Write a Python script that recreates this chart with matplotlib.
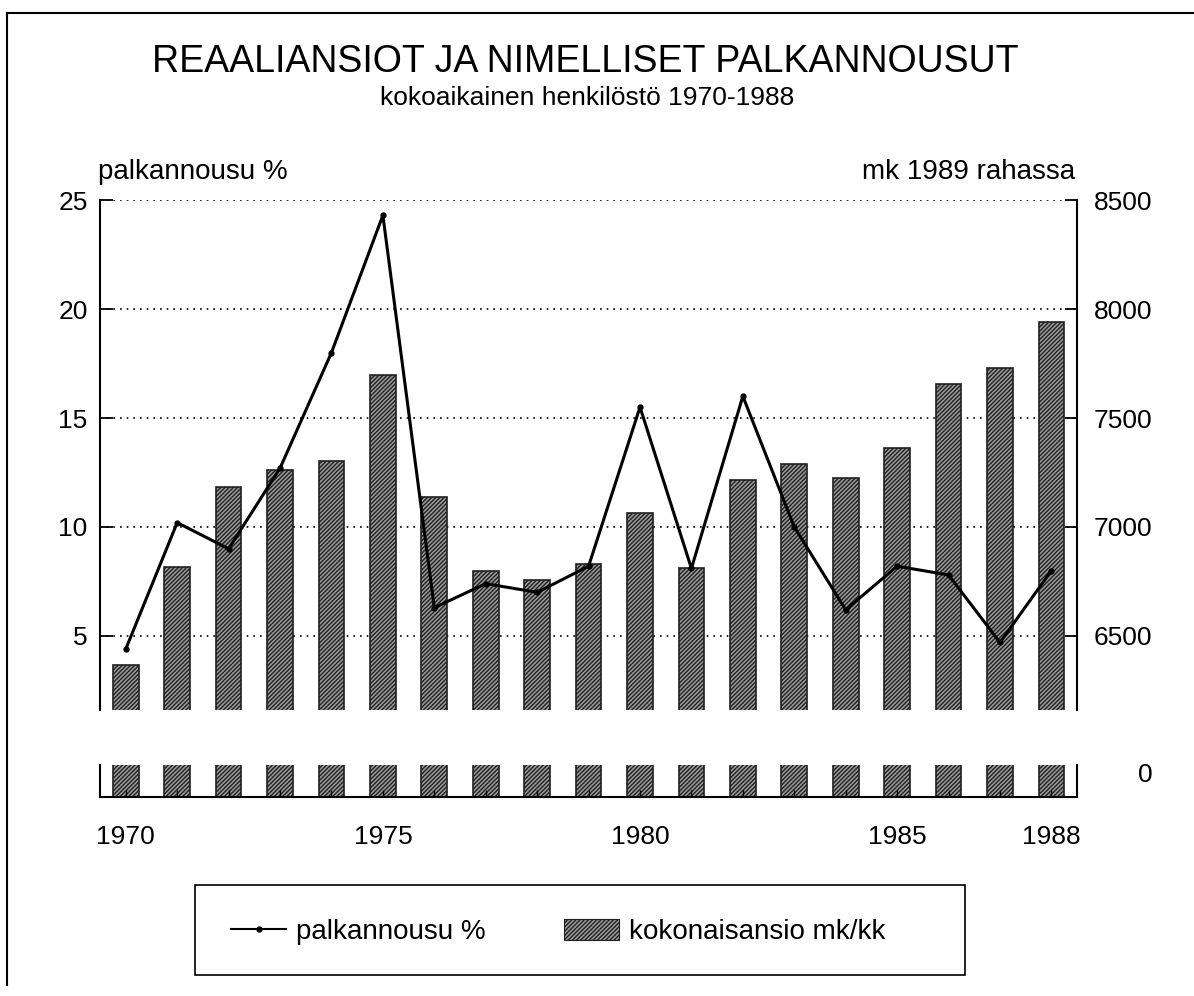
import matplotlib.pyplot as plt
import matplotlib.patches as mpatches
from matplotlib.lines import Line2D

plt.rcParams['font.family'] = ['Liberation Sans', 'DejaVu Sans']
plt.rcParams['hatch.linewidth'] = 1.0

''' Data '''
years = list(range(1970, 1989))
# palkannousu % (left axis)
wage_rise = [4.4, 10.2, 9.0, 12.7, 18.0, 24.3, 6.3, 7.4, 7.0, 8.2,
             15.5, 8.1, 16.0, 10.0, 6.2, 8.2, 7.8, 4.7, 8.0]
# kokonaisansio mk/kk, 1989 money (right axis)
earnings = [6367, 6816, 7183, 7261, 7303, 7697, 7138, 6798, 6757, 6830,
            7064, 6810, 7216, 7289, 7225, 7362, 7656, 7729, 7940]
year_labels = ["1970", "1975", "1980", "1985", "1988"]
label_years = [1970, 1975, 1980, 1985, 1988]

bar_face = "#9c9c9c"
bar_edge = "#202020"
bar_style = dict(width=0.5, facecolor=bar_face, edgecolor=bar_edge,
                 hatch="////////", linewidth=1.2)

fig = plt.figure(figsize=(11.94, 9.96), dpi=100)

''' Upper panel: bars on right axis, line on left axis '''
axb = fig.add_axes([0.0838, 0.2871, 0.8183, 0.5120])
axb.bar(years, earnings, zorder=2, **bar_style)
axb.set_ylim(6160, 8500)
axb.set_xlim(1969.5, 1988.5)
axb.set_yticks([6500, 7000, 7500, 8000, 8500])
axb.yaxis.grid(True, linestyle=(0, (1, 3)), color="black", linewidth=1.2, zorder=0)
axb.set_axisbelow(True)
axb.set_xticks([])
for s in ["top", "bottom"]:
    axb.spines[s].set_visible(False)
for s in ["left", "right"]:
    axb.spines[s].set_linewidth(1.5)

axl = axb.twinx()
axl.plot(years, wage_rise, color="black", linewidth=2.2, marker="o", markersize=3.5)
axl.set_ylim(1.6, 25)
axl.set_yticks([5, 10, 15, 20, 25])
axl.yaxis.tick_left()
for s in ["top", "bottom", "right", "left"]:
    axl.spines[s].set_visible(False)
axl.tick_params(axis="y", direction="in", length=9, width=1.3, labelsize=19, pad=9)

# twinx moved the bar axis ticks to the left, put them back on the right
axb.yaxis.tick_right()
axb.tick_params(axis="y", direction="in", length=9, width=1.3, labelsize=19, pad=12)

''' Lower panel: broken axis stub down to zero '''
axz = fig.add_axes([0.0838, 0.1998, 0.8183, 0.0321])
axz.bar(years, earnings, **bar_style)
axz.set_ylim(0, 400)
axz.set_xlim(1969.5, 1988.5)
axz.set_yticks([])
axz.spines["top"].set_visible(False)
for s in ["left", "right", "bottom"]:
    axz.spines[s].set_linewidth(1.5)
axz.set_xticks(years)
axz.set_xticklabels([year_labels[label_years.index(y)] if y in label_years else "" for y in years])
axz.tick_params(axis="x", direction="in", length=5, width=1, labelsize=19, pad=20)
axz.text(1.0768, 0.69, "0", transform=axz.transAxes, ha="right", va="center", fontsize=19)

''' Texts '''
fig.text(0.49, 0.938, "REAALIANSIOT JA NIMELLISET PALKANNOUSUT", ha="center", va="center", fontsize=27)
fig.text(0.492, 0.902, "kokoaikainen henkilöstö 1970-1988", ha="center", va="center", fontsize=19)
fig.text(98 / 1194, 1 - 172 / 996, "palkannousu %", ha="left", va="center", fontsize=20)
fig.text(1075 / 1194, 1 - 172 / 996, "mk 1989 rahassa", ha="right", va="center", fontsize=20)

''' Legend box '''
fig.patches.append(mpatches.Rectangle((195 / 1194, 1 - 975 / 996), 770 / 1194, 90 / 996,
                                      transform=fig.transFigure, fill=False,
                                      edgecolor="black", linewidth=1.2))
handles = [Line2D([], [], color="black", linewidth=1.5, marker="o", markersize=3.5),
           mpatches.Patch(facecolor=bar_face, edgecolor=bar_edge, hatch="////////", linewidth=0.8)]
fig.legend(handles, ["palkannousu %", "kokonaisansio mk/kk"], loc="center left",
           bbox_to_anchor=(217 / 1194, 1 - 932 / 996), ncol=2, frameon=False, borderpad=0,
           fontsize=20, handlelength=2.0, handleheight=0.8, handletextpad=0.35,
           columnspacing=2.8)

''' Outer frame (left and top edges) '''
fig.add_artist(Line2D([7 / 1194, 7 / 1194], [1 - 985 / 996, 1 - 13 / 996],
                      transform=fig.transFigure, color="black", linewidth=1.5))
fig.add_artist(Line2D([7 / 1194, 1.0], [1 - 13 / 996, 1 - 13 / 996],
                      transform=fig.transFigure, color="black", linewidth=1.5))

plt.savefig("out.png", dpi=100)
